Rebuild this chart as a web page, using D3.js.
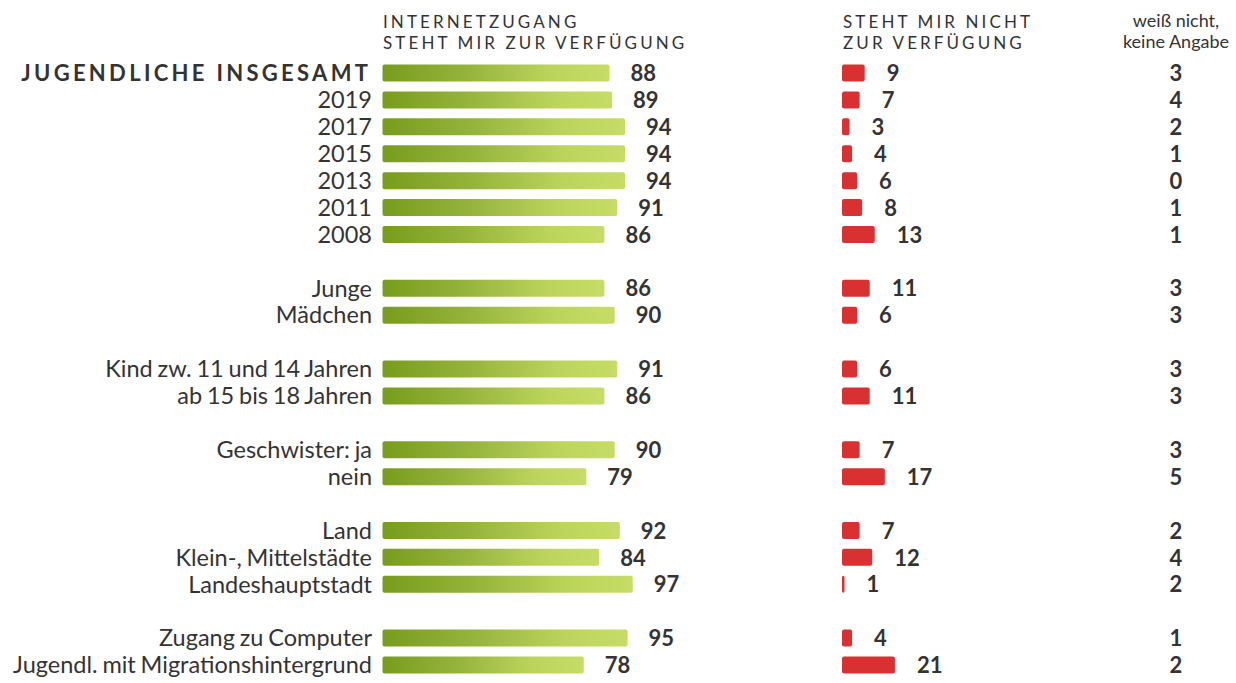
<!DOCTYPE html>
<head>
    <meta charset="utf-8">
    <script src="https://d3js.org/d3.v7.min.js"></script>
    <style>
        body { margin:0; background:#fff; }
        text { font-family: Lato, "Open Sans", sans-serif; fill:#333; }
    </style>
</head>
<body>
<script>
    // data
    var categories = ["JUGENDLICHE INSGESAMT", "2019", "2017", "2015", "2013", "2011", "2008",
        "Junge", "Mädchen",
        "Kind zw. 11 und 14 Jahren", "ab 15 bis 18 Jahren",
        "Geschwister: ja", "nein",
        "Land", "Klein-, Mittelstädte", "Landeshauptstadt",
        "Zugang zu Computer", "Jugendl. mit Migrationshintergrund"];
    var slots = [0, 1, 2, 3, 4, 5, 6, 8, 9, 11, 12, 14, 15, 17, 18, 19, 21, 22];
    var hasAccess = [88, 89, 94, 94, 94, 91, 86, 86, 90, 91, 86, 90, 79, 92, 84, 97, 95, 78];
    var noAccess = [9, 7, 3, 4, 6, 8, 13, 11, 6, 6, 11, 7, 17, 7, 12, 1, 4, 21];
    var dontKnow = [3, 4, 2, 1, 0, 1, 1, 3, 3, 3, 3, 3, 5, 2, 4, 2, 1, 2];
    var headers = [["INTERNETZUGANG", "STEHT MIR ZUR VERFÜGUNG"], ["STEHT MIR NICHT", "ZUR VERFÜGUNG"], ["weiß nicht,", "keine Angabe"]];

    var width = 1236, height = 683;
    var svg = d3.select("body").append("svg")
        .attr("width", width)
        .attr("height", height);

    var defs = svg.append("defs");
    var grad = defs.append("linearGradient").attr("id", "green");
    grad.append("stop").attr("offset", "0%").attr("stop-color", "#789c1c");
    grad.append("stop").attr("offset", "35%").attr("stop-color", "#93b23a");
    grad.append("stop").attr("offset", "75%").attr("stop-color", "#bcd45c");
    grad.append("stop").attr("offset", "100%").attr("stop-color", "#c6dc66");

    var y = d3.scaleLinear().domain([0, 22]).range([73, 665]);
    var xg = d3.scaleLinear().domain([0, 100]).range([382.5, 640.5]);
    var xr = d3.scaleLinear().domain([0, 100]).range([842, 1094]);
    var barH = 17;

    // headers
    var hdr = svg.append("g");
    hdr.selectAll("text.h1").data(headers[0]).join("text")
        .attr("class", "h1")
        .attr("x", 383).attr("y", function(d, i) { return 28 + i * 21; })
        .style("font-size", "17px").style("letter-spacing", "3.1px")
        .text(function(d) { return d; });
    hdr.selectAll("text.h2").data(headers[1]).join("text")
        .attr("class", "h2")
        .attr("x", 843).attr("y", function(d, i) { return 28 + i * 21; })
        .style("font-size", "17px").style("letter-spacing", "3.1px")
        .text(function(d) { return d; });
    hdr.selectAll("text.h3").data(headers[2]).join("text")
        .attr("class", "h3")
        .attr("x", 1176).attr("y", function(d, i) { return 27 + i * 21; })
        .attr("text-anchor", "middle")
        .style("font-size", "18px")
        .text(function(d) { return d; });

    var rows = svg.selectAll("g.row")
        .data(categories)
        .join("g")
        .attr("class", "row")
        .attr("transform", function(d, i) { return "translate(0," + y(slots[i]) + ")"; });

    rows.append("text")
        .attr("x", function(d, i) { return i === 0 ? 371.3 : 372; })
        .attr("dy", "0.35em")
        .attr("text-anchor", "end")
        .style("font-size", function(d, i) { return i === 0 ? "22px" : "23.5px"; })
        .style("font-weight", function(d, i) { return i === 0 ? 700 : 400; })
        .style("letter-spacing", function(d, i) { return i === 0 ? "3.3px" : "0px"; })
        .style("word-spacing", function(d, i) { return i === 0 ? "0px" : "-1.2px"; })
        .text(function(d) { return d; });

    rows.append("rect")
        .attr("x", xg(0)).attr("y", -barH / 2)
        .attr("width", function(d, i) { return xg(hasAccess[i]) - xg(0); })
        .attr("height", barH).attr("rx", 2)
        .attr("fill", "url(#green)");

    rows.append("text")
        .attr("x", function(d, i) { return xg(hasAccess[i]) + 21; })
        .attr("dy", "0.37em")
        .style("font-size", "22px").style("font-weight", 700)
        .text(function(d, i) { return hasAccess[i]; });

    rows.append("rect")
        .attr("x", xr(0)).attr("y", -barH / 2)
        .attr("width", function(d, i) { return xr(noAccess[i]) - xr(0); })
        .attr("height", barH).attr("rx", 2)
        .attr("fill", "#d93131");

    rows.append("text")
        .attr("x", function(d, i) { return xr(noAccess[i]) + 22; })
        .attr("dy", "0.37em")
        .style("font-size", "22px").style("font-weight", 700)
        .text(function(d, i) { return noAccess[i]; });

    rows.append("text")
        .attr("x", 1176).attr("dy", "0.37em")
        .attr("text-anchor", "middle")
        .style("font-size", "22px").style("font-weight", 700)
        .text(function(d, i) { return dontKnow[i]; });
</script>
</body>
